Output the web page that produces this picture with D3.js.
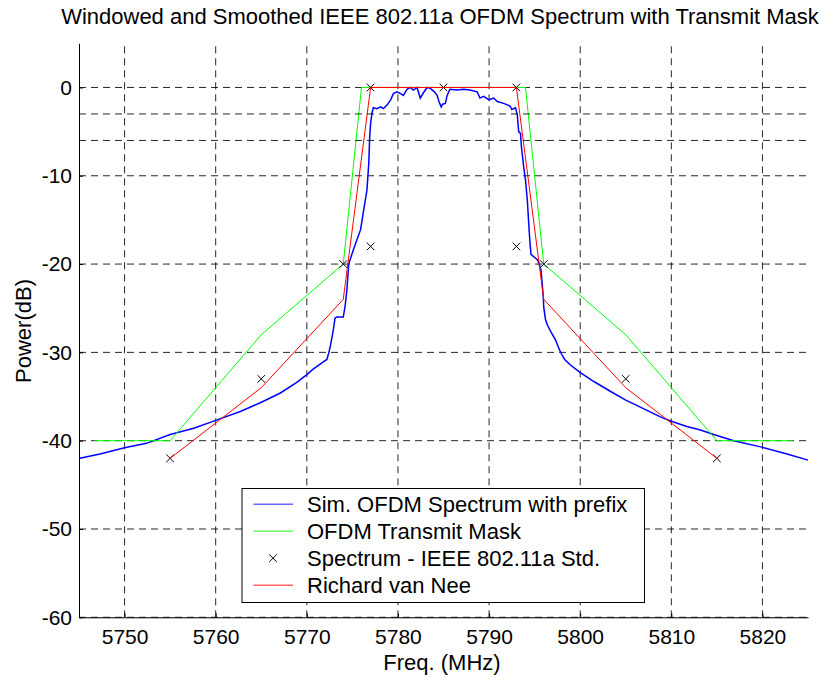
<!DOCTYPE html>
<html>
<head>
<meta charset="utf-8">
<script src="https://cdn.jsdelivr.net/npm/d3@7"></script>
<style>
  body { margin: 0; background: #fff; }
  text { font-family: "Liberation Sans", Arial, sans-serif; fill: #000; }
</style>
</head>
<body>
<svg id="chart" width="822" height="677"></svg>
<script>
// Simulated spectrum (freq MHz, power dB)
const specFreq = [
  5745.1, 5747.3, 5750.0, 5752.4, 5755.0, 5757.6, 5760.0, 5762.7, 5764.9, 5767.1,
  5768.9, 5769.9, 5770.7, 5771.5, 5772.2, 5772.4, 5772.6, 5772.9, 5773.1, 5773.3,
  5774.0, 5774.2, 5774.4, 5774.6, 5775.1, 5775.9, 5776.6, 5776.8, 5776.9, 5777.0,
  5777.15, 5777.3, 5777.7, 5778.1, 5778.4, 5778.8, 5779.2, 5779.5, 5779.9, 5780.3,
  5780.6, 5781.0, 5781.35, 5781.7, 5782.1, 5782.45, 5782.8, 5783.2, 5783.55, 5784.0,
  5784.3, 5784.5, 5784.75, 5784.9, 5785.2, 5785.4, 5785.7, 5786.5, 5787.2, 5787.9,
  5788.7, 5789.0, 5789.4, 5790.0, 5790.5, 5790.9, 5791.6, 5792.3, 5792.5, 5792.9,
  5793.1, 5793.25, 5793.45, 5793.55, 5793.8, 5794.0, 5794.2, 5794.3, 5794.4, 5794.5,
  5794.6, 5795.3, 5795.5, 5795.7, 5795.95, 5796.0, 5796.2, 5796.4, 5796.7, 5797.3,
  5797.6, 5797.9, 5798.3, 5798.9, 5799.9, 5801.5, 5803.3, 5805.0, 5806.6, 5808.8,
  5810.0, 5811.7, 5813.2, 5814.65, 5816.85, 5819.8, 5822.7, 5825.0
];
const specPower = [
  -42.0, -41.5, -40.8, -40.3, -39.3, -38.6, -37.7, -36.7, -35.7, -34.6,
  -33.4, -32.6, -31.9, -31.3, -30.8, -30.1, -29.2, -27.5, -26.1, -26.0,
  -26.0, -24.8, -22.9, -20.0, -18.4, -16.1, -11.6, -8.6, -5.6, -4.1,
  -2.9, -2.3, -2.4, -2.2, -2.4, -2.0, -1.4, -0.7, -0.5, -0.7,
  -0.9, -0.2, 0.0, -0.3, 0.0, -1.2, -0.6, 0.0, -0.1, -0.5,
  -0.9, -1.6, -2.2, -1.9, -1.8, -0.9, -0.2, -0.3, -0.2, -0.3,
  -0.5, -1.2, -1.0, -1.4, -1.2, -1.6, -1.8, -2.1, -2.5, -2.3,
  -3.1, -5.0, -5.2, -6.7, -9.0, -10.5, -12.8, -14.5, -16.2, -17.7,
  -18.9, -19.5, -20.0, -20.7, -23.7, -24.9, -26.3, -26.9, -27.5, -28.6,
  -29.4, -30.1, -30.8, -31.4, -32.2, -33.3, -34.4, -35.4, -36.2, -37.3,
  -37.8, -38.4, -38.8, -39.3, -40.0, -40.7, -41.5, -42.2
];

// OFDM transmit mask
const maskFreq = [5746.7, 5755, 5765, 5774, 5776, 5794, 5796, 5805, 5815, 5823.3];
const maskPower = [-40, -40, -28, -20, 0, 0, -20, -28, -40, -40];

// IEEE 802.11a std spectrum points (x markers)
const stdFreq = [5755, 5765, 5774, 5777, 5777, 5785, 5793, 5793, 5796, 5805, 5815];
const stdPower = [-42, -33, -20, -18, 0, 0, 0, -18, -20, -33, -42];

// Richard van Nee
const neeFreq = [5755, 5765, 5774, 5777, 5793, 5796, 5805, 5815];
const neePower = [-42, -34, -24, 0, 0, -24, -34, -42];

// reference levels (-3 dB, -6 dB)
const refLevels = [-3, -6];
const refRange = [5745, 5825];

const xTicks = [5750, 5760, 5770, 5780, 5790, 5800, 5810, 5820];
const yTicks = [0, -10, -20, -30, -40, -50, -60];

const legendLabels = ["Sim. OFDM Spectrum with prefix", "OFDM Transmit Mask",
                      "Spectrum - IEEE 802.11a Std.", "Richard van Nee"];

const svg = d3.select("#chart");
const m = { left: 79, right: 808, top: 43.3, bottom: 617.3 };
const font = '"Liberation Sans", Arial, sans-serif';

const x = d3.scaleLinear().domain([5745, 5825]).range([m.left, m.right]);
const y = d3.scaleLinear().domain([-60, 5]).range([m.bottom, m.top]);

// grid
const grid = svg.append("g").attr("stroke", "#000").attr("stroke-opacity", 0.85)
  .attr("stroke-dasharray", "7,5").attr("stroke-width", 1);
grid.selectAll(".vg").data(xTicks).join("line")
  .attr("x1", d => x(d)).attr("x2", d => x(d))
  .attr("y1", m.bottom).attr("y2", m.top);
grid.selectAll(".hg").data(yTicks).join("line")
  .attr("x1", m.left).attr("x2", x(5825.2))
  .attr("y1", d => y(d)).attr("y2", d => y(d));

// axes (plain hyphen for negatives, like the original)
svg.append("g").attr("transform", `translate(${m.left},0)`)
  .call(d3.axisLeft(y).tickValues(yTicks).tickSize(-4).tickPadding(7).tickSizeOuter(0)
    .tickFormat(d => String(d)))
  .call(g => g.select(".domain").attr("stroke", "#000"))
  .call(g => g.selectAll("text").attr("font-size", 21).attr("font-family", font));
svg.append("g").attr("transform", `translate(0,${m.bottom})`)
  .call(d3.axisBottom(x).tickValues(xTicks).tickSize(-4).tickPadding(12).tickSizeOuter(0)
    .tickFormat(d => String(d)))
  .call(g => g.selectAll("text").attr("font-size", 21).attr("font-family", font));

const plot = svg.append("g");
const line = d3.line().x(d => x(d[0])).y(d => y(d[1]));

const spec = specFreq.map((f, i) => [f, specPower[i]]);
const mask = maskFreq.map((f, i) => [f, maskPower[i]]);
const std = stdFreq.map((f, i) => [f, stdPower[i]]);
const nee = neeFreq.map((f, i) => [f, neePower[i]]);

plot.append("path").datum(spec).attr("d", line)
  .attr("fill", "none").attr("stroke", "#0000ff").attr("stroke-width", 1.5);
plot.append("path").datum(mask).attr("d", line)
  .attr("fill", "none").attr("stroke", "#00ff00").attr("stroke-width", 1);

const cross = d3.symbol().type(d3.symbolX).size(40);
plot.selectAll(".std").data(std).join("path")
  .attr("d", cross).attr("transform", d => `translate(${x(d[0])},${y(d[1])})`)
  .attr("fill", "none").attr("stroke", "#000").attr("stroke-width", 1);

plot.append("path").datum(nee).attr("d", line)
  .attr("fill", "none").attr("stroke", "#ff0000").attr("stroke-width", 1);

refLevels.forEach(lv => {
  plot.append("line")
    .attr("x1", x(refRange[0])).attr("x2", x(refRange[1]))
    .attr("y1", y(lv)).attr("y2", y(lv))
    .attr("stroke", "#000").attr("stroke-opacity", 0.85).attr("stroke-dasharray", "7,5");
});

// titles
svg.append("text").attr("x", 440).attr("y", 24).attr("text-anchor", "middle")
  .attr("font-size", 22).text("Windowed and Smoothed IEEE 802.11a OFDM Spectrum with Transmit Mask");
svg.append("text").attr("x", 442).attr("y", 669.5).attr("text-anchor", "middle")
  .attr("font-size", 22).text("Freq. (MHz)");
svg.append("text").attr("transform", "translate(31,331) rotate(-90)").attr("text-anchor", "middle")
  .attr("font-size", 22).text("Power(dB)");

// legend
const lg = svg.append("g");
lg.append("rect").attr("x", 242).attr("y", 488.5).attr("width", 402.5).attr("height", 114)
  .attr("fill", "#fff").attr("stroke", "#000").attr("stroke-width", 1);
const legendColors = ["#0000ff", "#00ff00", null, "#ff0000"];
legendLabels.forEach((lab, i) => {
  const by = 511.7 + i * 27;
  if (legendColors[i]) {
    lg.append("line").attr("x1", 253.5).attr("x2", 293).attr("y1", by - 7.5).attr("y2", by - 7.5)
      .attr("stroke", legendColors[i]).attr("stroke-width", 1.5).attr("stroke-opacity", 0.6);
  } else {
    lg.append("path").attr("d", cross).attr("transform", `translate(273,${by - 7.5})`)
      .attr("fill", "none").attr("stroke", "#000");
  }
  lg.append("text").attr("x", 307).attr("y", by).attr("font-size", 22).text(lab);
});
</script>
</body>
</html>
